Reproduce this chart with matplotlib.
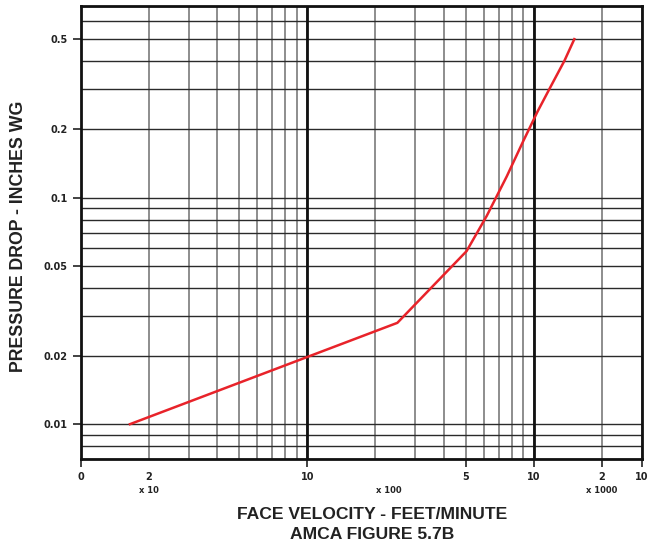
import numpy as np
import matplotlib
matplotlib.use('Agg')
import matplotlib.pyplot as plt
from matplotlib.ticker import FixedLocator, LogLocator, NullFormatter
import matplotlib.transforms as mtransforms

plt.rcParams['font.family'] = ['Liberation Sans', 'DejaVu Sans']

# face velocity (ft/min) and pressure drop (in. wg)
velocity = [16.5, 250, 505, 620, 760, 900, 1040, 1190, 1365, 1510]
pressure = [0.010, 0.028, 0.058, 0.083, 0.124, 0.178, 0.240, 0.310, 0.401, 0.50]

x_ticks = [10, 100, 500, 1000, 2000, 3000]
x_ticklabels = ['0', '10', '5', '10', '2', '10']
y_ticks = [0.01, 0.02, 0.05, 0.1, 0.2, 0.5]
y_ticklabels = ['0.01', '0.02', '0.05', '0.1', '0.2', '0.5']
multipliers = [(20, 'x 10'), (230, 'x 100'), (2000, 'x 1000')]

tick_font = dict(family='DejaVu Sans', weight='bold', size=7)

fig = plt.figure(figsize=(6.49, 5.48), dpi=100, facecolor='w')
ax = fig.add_axes([0.1243, 0.1619, 0.989 - 0.1243, 0.989 - 0.1619])
ax.set_xscale('log')
ax.set_yscale('log')
ax.set_xlim(10, 3000)
ax.set_ylim(0.007, 0.7)

ax.xaxis.set_major_locator(FixedLocator(x_ticks))
ax.xaxis.set_minor_locator(LogLocator(base=10, subs=np.arange(1, 10)))
ax.xaxis.set_minor_formatter(NullFormatter())
ax.yaxis.set_major_locator(FixedLocator(y_ticks))
ax.yaxis.set_minor_locator(LogLocator(base=10, subs=np.arange(1, 10)))
ax.yaxis.set_minor_formatter(NullFormatter())
ax.set_xticklabels(x_ticklabels, fontdict=tick_font, color='#222')
ax.set_yticklabels(y_ticklabels, fontdict=tick_font, color='#222')

ax.tick_params(which='major', direction='out', length=6, width=1.2, color='#222', pad=3.5)
ax.tick_params(which='minor', length=0)

ax.grid(which='both', axis='x', color='#7a7a7a', lw=1.2)
ax.grid(which='both', axis='y', color='#2a2a2a', lw=1.0)
for d in (100, 1000):
    ax.axvline(d, color='#111', lw=2.0, zorder=1.5)
ax.set_axisbelow(True)

for s in ax.spines.values():
    s.set_linewidth(2.0)
    s.set_color('#111')

ax.plot(velocity, pressure, color='#e8232a', lw=1.8, zorder=3)

trans = mtransforms.blended_transform_factory(ax.transData, ax.transAxes)
ax.text(20, -0.027, '2', transform=trans, ha='center', va='top',
        color='#222', **{'fontfamily': 'DejaVu Sans', 'fontweight': 'bold', 'fontsize': 7})
for xv, txt in multipliers:
    ax.text(xv, -0.06, txt, transform=trans, ha='center', va='top',
            fontfamily='DejaVu Sans', fontsize=6, fontweight='bold', color='#222')

fig.text(0.574, 0.061, 'FACE VELOCITY - FEET/MINUTE', ha='center', va='center',
         fontsize=12.6, fontweight='bold', color='#222')
fig.text(0.574, 0.0255, 'AMCA FIGURE 5.7B', ha='center', va='center',
         fontsize=12.6, fontweight='bold', color='#222')
fig.text(0.029, 0.569, 'PRESSURE DROP - INCHES WG', ha='center', va='center',
         rotation=90, fontsize=12.8, fontweight='bold', color='#222')

fig.savefig('out.png', dpi=100)
